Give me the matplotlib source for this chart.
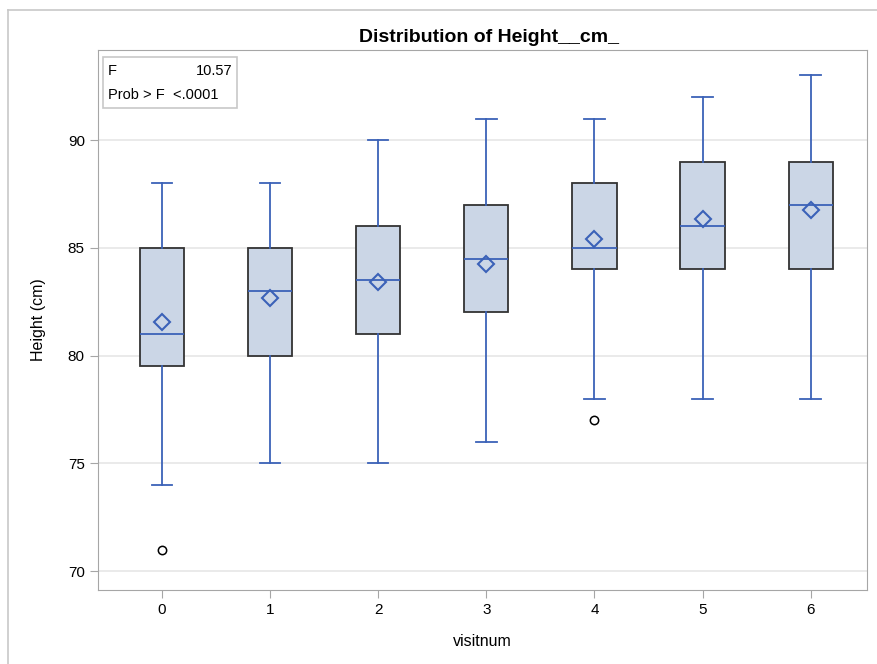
import matplotlib.pyplot as plt
from matplotlib.lines import Line2D
from matplotlib.patches import Rectangle

plt.rcParams["font.family"] = ["Liberation Sans", "DejaVu Sans"]

# 방문별 키 분포 요약값
visits = [0, 1, 2, 3, 4, 5, 6]
q1 = [79.5, 80, 81, 82, 84, 84, 84]
medians = [81, 83, 83.5, 84.5, 85, 86, 87]
q3 = [85, 85, 86, 87, 88, 89, 89]
whis_lo = [74, 75, 75, 76, 78, 78, 78]
whis_hi = [88, 88, 90, 91, 91, 92, 93]
means = [81.57, 82.65, 83.42, 84.25, 85.4, 86.32, 86.75]
outliers = [[71], [], [], [], [77], [], []]

blue = "#3b62b8"
fill = "#cbd6e6"

stats = []
for i in range(len(visits)):
    stats.append(dict(med=medians[i], q1=q1[i], q3=q3[i], whislo=whis_lo[i],
                      whishi=whis_hi[i], mean=means[i], fliers=outliers[i]))

fig = plt.figure(figsize=(8.77, 6.64), dpi=100)
ax = fig.add_axes([0.1117, 0.1114, 0.8769, 0.8133])

ax.bxp(stats, positions=visits, widths=0.41, capwidths=0.19,
       showmeans=True, patch_artist=True,
       boxprops=dict(facecolor=fill, edgecolor="#333333", linewidth=1.3),
       medianprops=dict(color=blue, linewidth=1.3),
       whiskerprops=dict(color=blue, linewidth=1.3),
       capprops=dict(color=blue, linewidth=1.3),
       meanprops=dict(marker="D", markerfacecolor="none", markeredgecolor=blue,
                      markersize=8, markeredgewidth=1.5),
       flierprops=dict(marker="o", markerfacecolor="none", markeredgecolor="black",
                       markersize=6, markeredgewidth=1.1),
       zorder=3)

ax.set_xlim(-0.59, 6.52)
ax.set_ylim(69.12, 94.18)
ax.set_yticks([70, 75, 80, 85, 90])
ax.set_xticks(visits)
ax.set_xticklabels([str(v) for v in visits])
ax.yaxis.grid(True, color="#e6e6e6", linewidth=1.2, zorder=0)
ax.set_axisbelow(True)

for s in ax.spines.values():
    s.set_color("#a6a6a6")
ax.tick_params(colors="#a6a6a6", labelcolor="black", labelsize=11, length=6)

ax.set_xlabel("visitnum", fontsize=11.5, labelpad=12)
ax.set_ylabel("Height (cm)", fontsize=11.5, labelpad=16)
fig.text(0.5576, 0.943, "Distribution of Height__cm_", ha="center", va="center",
         fontsize=14, fontweight="bold")

# F 검정 결과 박스
ax.add_patch(Rectangle((0.0065, 0.8926), 0.174, 0.0944, transform=ax.transAxes,
                       facecolor="white", edgecolor="#c8c8c8", linewidth=1.2, zorder=5))
ax.text(0.013, 0.962, "F", transform=ax.transAxes, ha="left", va="center",
        fontsize=10.5, zorder=6)
ax.text(0.1743, 0.962, "10.57", transform=ax.transAxes, ha="right", va="center",
        fontsize=10.5, zorder=6)
ax.text(0.013, 0.916, "Prob > F  <.0001", transform=ax.transAxes, ha="left", va="center",
        fontsize=10.5, zorder=6)

# 바깥 테두리
fig.add_artist(Line2D([0.009, 0.009], [0, 0.985], color="#c8c8c8", linewidth=1.2))
fig.add_artist(Line2D([0.009, 1.0], [0.985, 0.985], color="#c8c8c8", linewidth=1.2))

plt.savefig("out.png", dpi=100)
